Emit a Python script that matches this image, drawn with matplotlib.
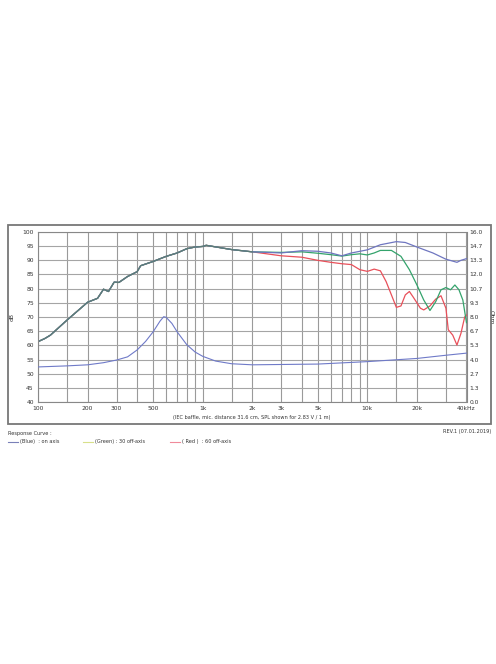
import matplotlib.pyplot as plt
from matplotlib.patches import Rectangle
from matplotlib.lines import Line2D
import numpy as np

# SPL response, low part shared by all three curves (Hz, dB)
f_low = [100, 110, 119, 150, 200, 230, 250, 268, 290, 310, 350, 400, 420, 500, 600, 700, 800, 900, 1000, 1050, 1500, 2000]
spl_low = [61.3, 62.4, 63.6, 68.9, 75.2, 76.6, 79.8, 79.0, 82.3, 82.2, 84.3, 86.0, 88.1, 89.6, 91.4, 92.6, 94.1, 94.7, 94.9, 95.3, 93.8, 93.0]

# on axis (blue) above 2 kHz
f_blue = [3000, 4000, 5000, 6000, 7000, 8000, 10000, 12000, 15000, 17000, 20000, 25000, 30000, 35000, 37000, 40000]
spl_blue = [92.6, 93.4, 93.2, 92.6, 91.6, 92.6, 93.7, 95.5, 96.6, 96.3, 94.7, 92.6, 90.4, 89.3, 90.0, 90.6]

# 30 deg off axis (green)
f_green = [3000, 4000, 5000, 6000, 7000, 8000, 9000, 10000, 11000, 12000, 14000, 16000, 18000, 20000, 22000, 24000,
           26000, 28000, 30000, 32000, 34000, 36000, 38000, 40000]
spl_green = [92.8, 93.0, 92.5, 92.0, 91.5, 92.0, 92.3, 91.9, 92.6, 93.5, 93.5, 91.4, 86.7, 81.3, 76.0, 72.3,
             75.4, 79.6, 80.4, 79.6, 81.3, 79.6, 76.0, 68.0]

# 60 deg off axis (red)
f_red = [3000, 4000, 5000, 6000, 7000, 8000, 9000, 10000, 11000, 12000, 13000, 14000, 15000, 16000, 17000, 18000,
         19000, 21000, 22000, 24000, 26000, 28000, 30000, 31000, 33000, 35000, 37000, 39000, 40000]
spl_red = [91.6, 91.1, 90.0, 89.3, 88.8, 88.5, 86.7, 86.1, 86.9, 86.3, 82.5, 77.8, 73.4, 73.9, 77.8, 79.0,
           77.0, 73.1, 72.5, 73.9, 76.3, 77.5, 73.1, 65.5, 63.6, 60.1, 64.2, 70.0, 70.7]

# impedance (Ohm)
f_imp = [100, 150, 200, 250, 300, 350, 400, 450, 500, 550, 580, 600, 650, 700, 800, 900, 1000, 1200, 1500, 2000,
         5000, 10000, 20000, 30000, 40000]
ohm = [3.3, 3.4, 3.5, 3.7, 3.95, 4.25, 4.9, 5.7, 6.6, 7.6, 8.03, 7.97, 7.4, 6.6, 5.4, 4.7, 4.3, 3.85, 3.6, 3.5,
       3.57, 3.8, 4.1, 4.4, 4.6]

grid_f = [100, 150, 200, 300, 400, 500, 600, 700, 800, 900, 1000, 1500, 2000, 3000, 4000, 5000, 6000, 7000, 8000,
          9000, 10000, 15000, 20000, 30000, 40000]
xt = [100, 200, 300, 500, 1000, 2000, 3000, 5000, 10000, 20000, 40000]
xtl = ['100', '200', '300', '500', '1k', '2k', '3k', '5k', '10k', '20k', '40kHz']
ohm_ticks = ['0.0', '1.3', '2.7', '4.0', '5.3', '6.7', '8.0', '9.3', '10.7', '12.0', '13.3', '14.7', '16.0']

W, H = 496, 664
fig = plt.figure(figsize=(W / 100, H / 100), dpi=100)

# outer frame
fig.patches.append(Rectangle((8 / W, 1 - 424 / H), 483 / W, 199 / H, transform=fig.transFigure,
                             fill=False, edgecolor='#777777', linewidth=1.3))

ax = fig.add_axes([38 / W, 1 - 402 / H, 428.5 / W, 170 / H])
ax.set_xscale('log')
ax.set_xlim(100, 40000)
ax.set_ylim(40, 100)
for g in grid_f:
    ax.axvline(g, color='#9a9a9a', lw=0.8, zorder=0)
for y in range(40, 101, 5):
    ax.axhline(y, color='#a5a5a5', lw=0.8, zorder=0)

ax.set_xticks(xt)
ax.set_xticklabels(xtl)
ax.xaxis.set_minor_locator(plt.NullLocator())
ax.set_yticks(range(40, 101, 5))
ax.tick_params(length=0, labelsize=4.3, pad=3, colors='#333333')
for s in ax.spines.values():
    s.set_color('#888888')
    s.set_linewidth(0.8)
ax.set_ylabel('dB', fontsize=4.3, labelpad=6, color='#333333')

blue_f = f_low + f_blue
green_f = f_low + f_green
red_f = f_low + f_red
ax.plot(red_f, spl_low + spl_red, color='#e8505a', lw=0.9)
ax.plot(green_f, spl_low + spl_green, color='#34a36c', lw=0.9)
ax.plot(blue_f, spl_low + spl_blue, color='#6f76c0', lw=0.9)
# overlapping part of the three curves looks grey-green
ax.plot(f_low, spl_low, color='#5b7d76', lw=0.9)

ax2 = ax.twinx()
ax2.set_ylim(0, 16)
ax2.set_yticks(np.linspace(0, 16, 13))
ax2.set_yticklabels(ohm_ticks)
ax2.tick_params(length=0, labelsize=4.3, pad=2, colors='#333333')
for s in ax2.spines.values():
    s.set_visible(False)
ax2.set_ylabel('Ohm', fontsize=4.3, rotation=-90, labelpad=8, color='#333333')
ax2.plot(f_imp, ohm, color='#6f7ac8', lw=0.8)

fig.text(252 / W, 1 - 418 / H, '(IEC baffle, mic. distance 31.6 cm, SPL shown for 2.83 V / 1 m)',
         fontsize=3.6, ha='center', va='center', color='#333333')
fig.text(8 / W, 1 - 433 / H, 'Response Curve :', fontsize=3.6, va='center', color='#333333')
fig.text(491 / W, 1 - 431 / H, 'REV.1 (07.01.2019)', fontsize=3.6, va='center', ha='right', color='#333333')

legend_items = [(8, '#7a80b8', '(Blue)  : on axis'),
                (83, '#d8e08a', '(Green) : 30 off-axis'),
                (170, '#f08a9a', '( Red )  : 60 off-axis')]
for x0, c, label in legend_items:
    fig.add_artist(Line2D([x0 / W, (x0 + 10) / W], [1 - 442 / H, 1 - 442 / H], color=c, lw=0.8,
                          transform=fig.transFigure))
    fig.text((x0 + 12) / W, 1 - 442 / H, label, fontsize=3.6, va='center', color='#333333')

fig.savefig('out.png', dpi=100)
